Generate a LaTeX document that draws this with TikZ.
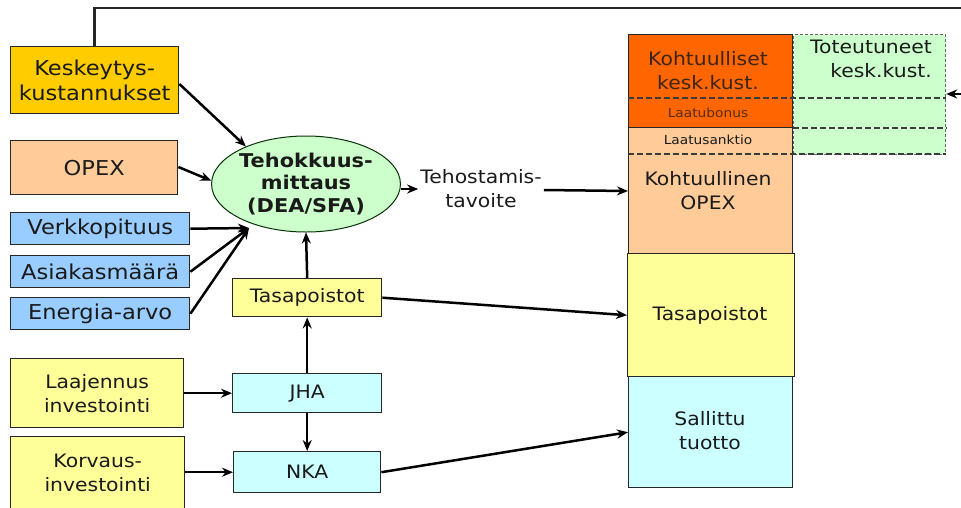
\documentclass[tikz,border=0pt]{standalone}
\usepackage{fontspec}
\setmainfont{DejaVu Sans}[FakeStretch=1.1]
\usetikzlibrary{shapes.geometric,arrows.meta}
\definecolor{cgold}{HTML}{FFCC00}
\definecolor{cpeach}{HTML}{FFCC99}
\definecolor{cblue}{HTML}{99CCFF}
\definecolor{cgreen}{HTML}{CCFFCC}
\definecolor{cyellow}{HTML}{FFFF99}
\definecolor{ccyan}{HTML}{CCFFFF}
\definecolor{corange}{HTML}{FF6600}
\definecolor{ctext}{HTML}{1A1A1A}
\definecolor{cline}{HTML}{262626}
\tikzset{
  box/.style={draw=cline, line width=1.4pt, inner sep=0pt, anchor=north west, text=ctext},
  bigtxt/.style={font=\fontsize{20.5}{25}\selectfont, align=center},
  midtxt/.style={font=\fontsize{18.5}{24}\selectfont, align=center},
  smalltxt/.style={font=\fontsize{12.5}{14}\selectfont, text=ctext},
  arr/.style={line width=2.5pt, -{Stealth[length=11pt,width=9pt]}},
  dline/.style={draw=cline!90, line width=1.5pt, dash pattern=on 6pt off 3pt},
}
\begin{document}
\begin{tikzpicture}[x=1pt,y=-1pt]
\useasboundingbox (0,0) rectangle (961,507);
% left inputs
\node[box, fill=cgold, minimum width=168, minimum height=67, bigtxt] (kesk) at (10,46) {Keskeytys-\\kustannukset};
\node[box, fill=cpeach, minimum width=167, minimum height=54, bigtxt] (opex) at (10,140) {OPEX};
\node[box, fill=cblue, minimum width=179, minimum height=32, bigtxt] (verk) at (10,212) {Verkkopituus};
\node[box, fill=cblue, minimum width=179, minimum height=32, bigtxt] (asia) at (10,255) {Asiakasmäärä};
\node[box, fill=cblue, minimum width=179, minimum height=32, bigtxt] (ener) at (10,297) {Energia-arvo};
\node[box, fill=cyellow, minimum width=173, minimum height=69, midtxt] (laaj) at (10,358) {Laajennus\\investointi};
\node[box, fill=cyellow, minimum width=174, minimum height=72, midtxt] (korv) at (10,436) {Korvaus-\\investointi};
% middle
\node[ellipse, draw=cline!60!green!40!black, line width=1pt, fill=cgreen, minimum width=160, minimum height=96, inner sep=0pt,
      font=\bfseries\fontsize{19}{22.5}\selectfont, align=center, text=ctext] (ell) at (306,184) {Tehokkuus-\\mittaus\\(DEA/SFA)};
\node[box, fill=cyellow, minimum width=149, minimum height=38, midtxt] (tasa) at (232,278) {Tasapoistot};
\node[box, fill=ccyan, minimum width=149, minimum height=39, midtxt] (jha) at (232,373) {JHA};
\node[box, fill=ccyan, minimum width=147, minimum height=41, midtxt] (nka) at (233,451) {NKA};
\node[midtxt, text=ctext, inner sep=2pt] (teho) at (481,189) {Tehostamis-\\tavoite};
% right column
\node[box, fill=cgreen, draw=cline!70, line width=1.2pt, densely dashed, minimum width=152, minimum height=120] (tot) at (793,34) {};
\node[box, fill=corange, minimum width=164, minimum height=93] (kohl) at (628,34) {};
\node[box, fill=cpeach, minimum width=164, minimum height=126] (kopex) at (628,127) {};
\node[box, fill=cyellow, minimum width=167, minimum height=123] (btasa) at (627,253) {};
\node[box, fill=ccyan, minimum width=164, minimum height=111] (sall) at (628,376) {};
\draw[dline] (kohl.west |- 0,98) -- (tot.east |- 0,98);
\draw[dline] (tot.west |- 0,128) -- (tot.east |- 0,128);
\draw[dline] (kopex.west |- 0,154) -- (tot.east |- 0,154);
\node[midtxt, text=ctext!85!corange] (tkohl) at (708,71) {Kohtuulliset\\kesk.kust.};
\node[smalltxt, text=ctext!75!corange] (tbonus) at (708,113) {Laatubonus};
\node[smalltxt] (tsank) at (708,140) {Laatusanktio};
\node[midtxt, text=ctext] (tkopex) at (708,191) {Kohtuullinen\\OPEX};
\node[midtxt, text=ctext] (tbtasa) at (710,315) {Tasapoistot};
\node[midtxt, text=ctext] (tsall) at (710,431) {Sallittu\\tuotto};
\node[midtxt, text=ctext, align=right, anchor=north east, inner sep=0pt] (ttot) at (932,40) {Toteutuneet\\kesk.kust.};
% feedback line
\coordinate (topr) at (961,8);
\coordinate (rin) at (961,94);
\draw[line width=2.5pt, cline] (kesk.north) |- (topr);
\draw[arr] (rin) -- (tot.east |- rin);
% connectors
\draw[arr] (kesk.east |- 0,84) -- (ell.148);
\draw[arr] (opex.east |- 0,167) -- (ell.178);
\coordinate (conv) at (249,228);
\draw[arr] (verk.east) -- (conv);
\draw[arr] (asia.east) -- (conv);
\draw[arr] (ener.east) -- (conv);
\draw[arr] (tasa.north) -- (ell.south);
\draw[arr] (ell.east |- 0,189) -- (teho.west |- 0,189);
\draw[arr] (teho.east |- 0,190) -- (kopex.west |- 0,191);
\draw[arr] (tasa.east) -- (btasa.west);
\draw[arr] (jha.north) -- (tasa.south);
\draw[arr] (jha.south) -- (nka.north);
\draw[arr] (laaj.east |- jha.west) -- (jha.west);
\draw[arr] (korv.east |- nka.west) -- (nka.west);
\draw[arr] (nka.east) -- (sall.west);
\end{tikzpicture}
\end{document}
